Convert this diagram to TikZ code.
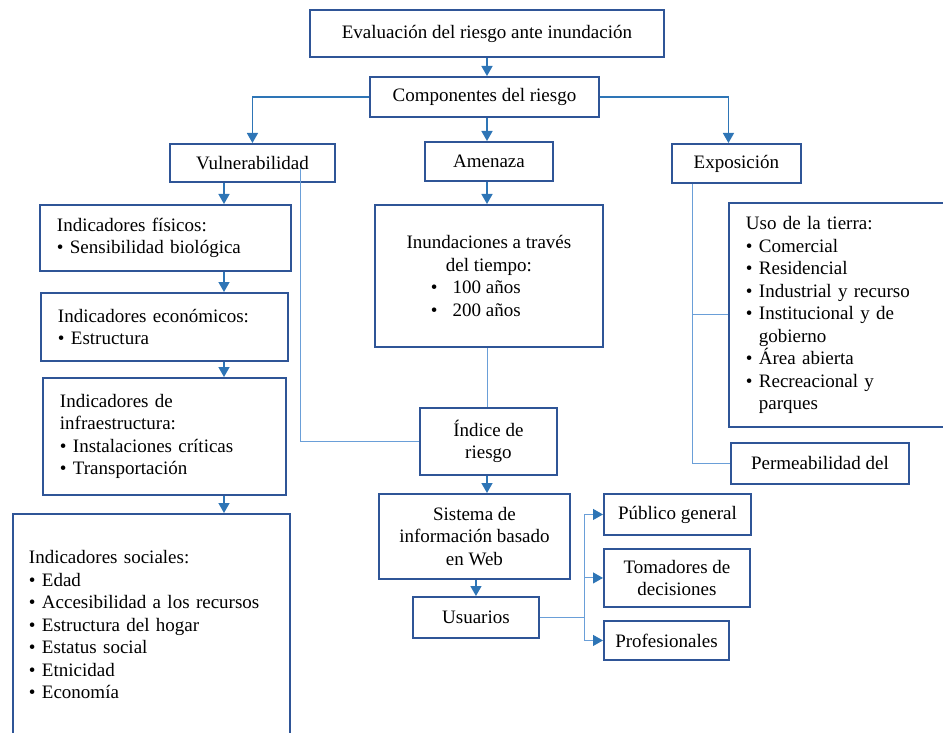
\documentclass[tikz,border=0pt]{standalone}
\usepackage{fontspec}
\setmainfont{Liberation Serif}
\usepackage{xcolor}
\usepackage{tikz}
\usetikzlibrary{positioning, arrows.meta}

\definecolor{boxblue}{HTML}{2F5597}
\definecolor{arrowblue}{HTML}{2E75B6}
\definecolor{linkblue}{HTML}{6A9FD8}

\tikzset{
	box/.style={draw=boxblue, line width=1.9pt, fill=white, inner sep=0pt, anchor=north west, align=center, font=\fontsize{19pt}{22.5pt}\selectfont},
	listbox/.style={box, align=left, inner xsep=17pt},
	tip/.style={-{Triangle[width=11pt,length=10pt]}},
	arrow/.style={draw=arrowblue, line width=1.5pt, tip},
	link/.style={draw=linkblue, line width=1pt}
}

\begin{document}
\begin{tikzpicture}[x=1pt, y=-1pt]
			\useasboundingbox (0,0) rectangle (943,733);
			
			\node[box, minimum width=354pt, minimum height=47pt] (eval) at (309,9) {Evaluación del riesgo ante inundación};
			\node[box, minimum width=229pt, minimum height=40pt] (comp) at (369,76) {Componentes del riesgo};
			\node[box, minimum width=165pt, minimum height=38pt] (vuln) at (169,143) {Vulnerabilidad};
			\node[box, minimum width=128pt, minimum height=39pt] (amen) at (424,141) {Amenaza};
			\node[box, minimum width=129pt, minimum height=39pt] (expo) at (671,143) {Exposición};
			
			\node[listbox, text width=217pt, minimum height=66pt] (fisicos) at (39,204) {Indicadores físicos:\\\textbullet~Sensibilidad biológica};
			\node[listbox, text width=213pt, minimum height=68pt] (econ) at (40,292) {Indicadores económicos:\\\textbullet~Estructura};
			\node[listbox, text width=209pt, minimum height=117pt] (infra) at (42,377) {Indicadores de\\infraestructura:\\\textbullet~Instalaciones críticas\\\textbullet~Transportación};
			\node[listbox, text width=245pt, inner xsep=16pt, minimum height=222pt] (social) at (12,513) {Indicadores sociales:\\\textbullet~Edad\\\textbullet~Accesibilidad a los recursos\\\textbullet~Estructura del hogar\\\textbullet~Estatus social\\\textbullet~Etnicidad\\\textbullet~Economía};
			
			\node[box, minimum width=228pt, minimum height=142pt] (inund) at (374,204) {Inundaciones a través\\del tiempo:\\\makebox[116pt][l]{\textbullet\hspace{15pt}100 años}\\\makebox[116pt][l]{\textbullet\hspace{15pt}200 años}};
			\node[box, minimum width=137pt, minimum height=67pt] (indice) at (419,407) {Índice de\\riesgo};
			\node[box, minimum width=191pt, minimum height=85pt] (sistema) at (378,493) {Sistema de\\información basado\\en Web};
			\node[box, minimum width=126pt, minimum height=41pt] (usuarios) at (412,596) {Usuarios};
			
			\node[listbox, text width=196pt, minimum height=224pt] (uso) at (728,202) {Uso de la tierra:\\\textbullet~Comercial\\\textbullet~Residencial\\\textbullet~Industrial y recurso\\\textbullet~Institucional y de\\\hphantom{\textbullet~}gobierno\\\textbullet~Área abierta\\\textbullet~Recreacional y\\\hphantom{\textbullet~}parques};
			\node[box, minimum width=178pt, minimum height=41pt] (perm) at (730,442) {Permeabilidad del};
			
			\node[box, minimum width=147pt, minimum height=41pt] (publico) at (603,493) {Público general};
			\node[box, minimum width=146pt, minimum height=58pt] (tomad) at (603,548) {Tomadores de\\decisiones};
			\node[box, minimum width=125pt, minimum height=39pt] (prof) at (603,620) {Profesionales};
			
			\coordinate (mcol) at (487,0);
			\coordinate (vcol) at (224,0);
			\coordinate (ecol) at (692,0);
			\coordinate (vtap) at (300,168);
			\coordinate (ucol) at (584,0);
			
			\draw[arrow] (mcol |- eval.south) -- (mcol |- comp.north);
			\draw[arrow] (comp.west) -| (vuln.north);
			\draw[arrow] (comp.east) -| ([xshift=-8pt]expo.north);
			\draw[arrow] (mcol |- comp.south) -- (mcol |- amen.north);
			\draw[arrow] (mcol |- amen.south) -- (mcol |- inund.north);
			\draw[link] (mcol |- inund.south) -- (mcol |- indice.north);
			\draw[arrow] (mcol |- indice.south) -- (mcol |- sistema.north);
			\draw[arrow] (usuarios.north |- sistema.south) -- (usuarios.north);
			
			\draw[arrow] (vcol |- vuln.south) -- (vcol |- fisicos.north);
			\draw[arrow] (vcol |- fisicos.south) -- (vcol |- econ.north);
			\draw[arrow] (vcol |- econ.south) -- (vcol |- infra.north);
			\draw[arrow] (vcol |- infra.south) -- (vcol |- social.north);
			\draw[link] (vtap) |- (indice.west);
			
			\draw[link] (ecol |- expo.south) |- (perm.west);
			\draw[link] (ecol |- uso.west) -- (uso.west);
			
			\draw[link] (usuarios.east) -- (ucol |- usuarios.east);
			\foreach \user in {publico, tomad, prof}
				\draw[link, -{Triangle[width=11pt,length=10pt,color=arrowblue]}] (ucol |- usuarios.east) |- (\user.west);
			\end{tikzpicture}
\end{document}
